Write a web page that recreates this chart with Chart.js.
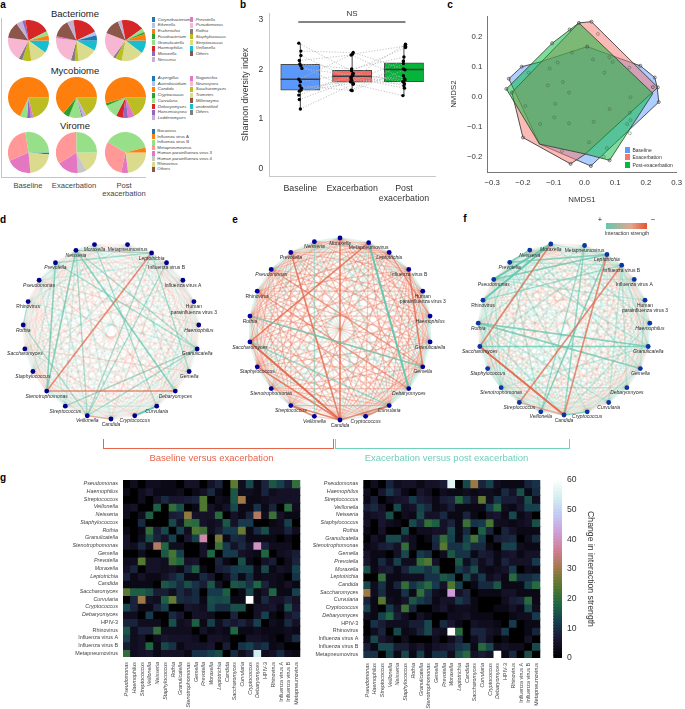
<!doctype html>
<html><head><meta charset="utf-8">
<style>
html,body{margin:0;padding:0;background:#fff;overflow:hidden}
#page{position:relative;width:685px;height:709px;overflow:hidden;font-family:"Liberation Sans",Arial,sans-serif}
canvas{position:absolute}
.t{position:absolute;white-space:pre;line-height:1;color:#333}
.b{position:absolute}
</style>
<script src="https://cdn.jsdelivr.net/npm/chart.js@4/dist/chart.umd.min.js"></script>
</head><body><div id="page"></div>
<script>
// ---------- panel a data ----------
const pieRowNames = ["Bacteriome","Mycobiome","Virome"];
const stageNames = ["Baseline","Exacerbation","Post exacerbation"];
const bacteriaTaxa = ["Corynebacterium","Eikenella","Escherichia","Fusobacterium","Granulicatella","Haemophilus","Moraxella","Neisseria","Prevotella","Pseudomonas","Rothia","Staphylococcus","Streptococcus","Veillonella","Others"];
const bacteriaColors = ["#1f77b4","#aec7e8","#ff7f0e","#2ca02c","#98df8a","#d62728","#9467bd","#c5b0d5","#e377c2","#f7b6d2","#7f7f7f","#bcbd22","#dbdb8d","#17becf","#8c564b"];
const fungiTaxa = ["Aspergillus","Aureobasidium","Candida","Cryptococcus","Curvularia","Debaryomyces","Hanseniaspora","Lodderomyces","Naganishia","Neurospora","Saccharomyces","Trametes","Millerozyma","unidentified","Others"];
const fungiColors = ["#1f77b4","#aec7e8","#ff7f0e","#2ca02c","#98df8a","#d62728","#9467bd","#c5b0d5","#e377c2","#f7b6d2","#bcbd22","#dbdb8d","#8c564b","#17becf","#7f7f7f"];
const virusTaxa = ["Bocavirus","Influenza virus A","Influenza virus B","Metapneumovirus","Human parainfluenza virus 3","Human parainfluenza virus 4","Rhinovirus","Others"];
const virusColors = ["#1f77b4","#ff7f0e","#98df8a","#ff9896","#e377c2","#c7c7c7","#dbdb8d","#8c564b"];
// slices clockwise from three o'clock: [taxon, percent]
const bacBaseline = [["Veillonella",10],["Streptococcus",13],["Staphylococcus",7],["Rothia",3],["Pseudomonas",19.5],["Others",13],["Neisseria",5],["Moraxella",2.5],["Haemophilus",20],["Granulicatella",3.5],["Escherichia",4]];
const bacExacerb = [["Veillonella",8],["Streptococcus",15],["Staphylococcus",3],["Rothia",3],["Pseudomonas",22],["Prevotella",1.5],["Others",14],["Neisseria",5],["Haemophilus",20],["Eikenella",3],["Corynebacterium",4]];
const bacPost = [["Veillonella",10],["Streptococcus",17],["Staphylococcus",5],["Rothia",2],["Pseudomonas",20],["Others",12.5],["Neisseria",3],["Haemophilus",17.5],["Granulicatella",3],["Fusobacterium",1.5],["Escherichia",5]];
const mycBaseline = [["Saccharomyces",21],["Naganishia",2],["Hanseniaspora",3],["Curvularia",5.5],["Candida",68]];
const mycExacerb = [["Saccharomyces",17],["Lodderomyces",3],["Hanseniaspora",1],["Curvularia",10],["Cryptococcus",5],["Candida",64]];
const mycPost = [["Saccharomyces",18],["Naganishia",5],["Hanseniaspora",4],["Debaryomyces",5.5],["Curvularia",11],["Cryptococcus",2],["Candida",54.5]];
const virBaseline = [["Bocavirus",1.5],["Rhinovirus",22],["Human parainfluenza virus 3",20],["Metapneumovirus",29],["Influenza virus B",27.5]];
const virExacerb = [["Rhinovirus",17],["Human parainfluenza virus 4",7],["Human parainfluenza virus 3",17],["Metapneumovirus",34],["Influenza virus B",25]];
const virPost = [["Rhinovirus",23],["Human parainfluenza virus 3",5.5],["Metapneumovirus",30],["Influenza virus B",37.5],["Influenza virus A",4]];

// ---------- panel b data ----------
const boxCategories = ["Baseline","Exacerbation",["Post","exacerbation"]];
const boxColors = ["#5b98fb","#f4685f","#04b53a"];
const boxQ1 = [1.58,1.74,1.75];
const boxQ3 = [2.10,1.98,2.13];
const boxMedian = [1.80,1.86,2.00];
const whiskerLow = [1.20,1.55,1.47];
const whiskerHigh = [2.52,2.33,2.50];
const baselineDiversity = [2.53,2.37,2.28,2.18,2.11,2.07,2.02,1.80,1.75,1.67,1.62,1.58,1.56,1.48,1.39,1.20];
const exacerbDiversity = [1.97,2.34,1.81,2.29,2.01,1.58,1.88,2.31,1.92,1.57,1.75,1.84,1.72,1.90,1.78,1.70];
const postDiversity = [2.44,2.01,2.51,1.81,2.25,2.12,1.67,2.47,1.75,1.99,2.17,1.62,1.87,1.79,1.71,1.47];
const baselineJitter = [-.03,.01,.01,-.02,-.01,.01,.03,-.03,0,-.01,.02,.01,-.02,-.03,-.02,0];
const exacerbJitter = [-.01,.02,-.02,-.02,-.01,-.02,.01,.01,.02,0,-.03,-.02,.02,.01,-.01,.02];
const postJitter = [.03,-.01,.03,.01,0,-.01,0,.03,-.02,.02,-.01,.01,-.01,.02,.01,-.02];
const nsLevel = 2.96;

// ---------- panel c data ----------
const nmdsBaseline = [[-.246,.060],[-.204,.100],[-.147,.115],[.009,.167],[.100,.133],[.182,.103],[.229,.064],[.237,.031],[.242,-.018],[.021,-.231],[-.146,-.158]];
const nmdsExacerb = [[.023,.250],[.239,.031],[.003,-.191],[-.045,-.224],[-.200,-.136],[-.236,.014],[-.018,.246]];
const nmdsPost = [[-.018,.246],[-.105,.178],[-.254,.026],[-.146,-.158],[.003,-.191],[.082,-.212],[.223,.011]];
const nmdsInnerPoints = [[-.040,.147],[-.087,.114],[-.113,.094],[.028,.124],[.081,.131],[.092,.116],[.065,.080],[-.070,.049],[-.119,.038],[-.050,.014],[-.192,-.031],[-.095,-.024],[-.098,-.069],[-.144,-.091],[-.050,-.089],[.030,-.084],[.082,-.041],[.150,-.002],[.148,-.053],[.150,-.078],[.015,-.152],[.073,-.171],[-.073,-.181],[.146,.097],[.044,.209],[-.182,.080],[.139,-.091],[.148,-.122],[.063,-.200]];
const nmdsVertices = [[-.246,.060],[-.204,.100],[.182,.103],[.229,.064],[.239,.031],[.242,-.018],[.021,-.231],[.023,.250],[-.018,.246],[-.048,.224],[-.105,.178],[-.254,.026],[-.236,.014],[-.200,-.136],[-.045,-.224],[.082,-.212],[.009,.167],[.223,.032]];
const nmdsNames = ["Baseline","Exacerbation","Post-exacerbation"];
const nmdsTicksX = [-.3,-.2,-.1,0,.1,.2,.3];
const nmdsTicksY = [-.2,-.1,0,.1,.2];

// ---------- panels d, e, f data ----------
const nodesDF = ["Candida","Cryptococcus","Curvularia","Debaryomyces","Gemella","Granulicatella","Haemophilus","Human parainfluenza virus 3","Influenza virus A","Influenza virus B","Leptotrichia","Metapneumovirus","Moraxella","Neisseria","Prevotella","Pseudomonas","Rhinovirus","Rothia","Saccharomyces","Staphylococcus","Stenotrophomonas","Streptococcus","Veillonella"];
const nodesE = nodesDF.filter(n => n !== "Influenza virus A");
const uprightNames = ["Human parainfluenza virus 3","Influenza virus A","Influenza virus B","Metapneumovirus","Rhinovirus","HPIV-3"];
const nudgeD = {"Leptotrichia":-4,"Metapneumovirus":-3,"Moraxella":3};
const nudgeE = {"Metapneumovirus":-2};
const nudgeF = {"Leptotrichia":-6.5,"Metapneumovirus":-6,"Influenza virus B":-3,"Moraxella":1};
// faint all-pairs network: r/g faint, R/G medium, '.' none
const faintD = ["rrgrGgrgRrrgGrgrrgRgrg","rrgrgRrggrgrrgrrRrgrg","grgrGrrgrgRrgrrgrgGg","rgrrgrgGrgrRrggrrrg","grgrrgrGrrggrRrgrg","rgrgrGgrgrGrgrgRg","grrgrgrgRrgrgrgr","rgGrgrrgrgrrggr","grgrrgrgrRgrgr","rgrgrGrrgrgrg","grRgrgrrGrgr","rgrgGrgrgrg","GrgrgrGrgr","rGgrrgrGr","grgrGrgG","rrgrrGg","grgrgr","rgRgr","grrg","Rgr","gG","r"];
const faintE = ["ggrRgRrRRgRrRrRRgRrRR","ggRRgRRrRrgRRrRgRRr","ggrrRRrRgRrRRrgRRr","ggRgRrRRrRgrRRrRg","ggrRgRRrRrRRgrRr","ggRrRRgRrRRrRgR","gRRrRgRRrRrRgR","ggRgRrRRrRgRrR","gRRrRgRrRRrR","grRRgRRrRgR","gRgRrRRrRgR","gRRgRrRRr","ggrRgRRr","gRRrRgR","grRRgR","ggRrR","gRRg","gRr","gR","g","g"];
const faintF = ["grgrgGrgrgGrrgrgGgrgrg","rgGrgrgrgrrgGrgrgrgrg","gggrgrGrgrrgrgGrgrgr","grgrgGrgrrggrgrgGgr","rgGrgrgrGrgrrggrgr","ggrGrgrgGrgrggGrg","rgrggGrgrgrgrgrg","grgrgrgGrgrggrg","rgggrgGrrgrggr","grgrGggrgrgrg","gGrgrgrGrggr","rgrggGrgrgg","gGgrgGrgrg","GrgggrGrg","grgGrggG","rggrGrg","grgGgr","rgGgr","ggrg","Grg","gG","g"];
// stronger edges: [node, node, level, sign]
const strongD = [["Stenotrophomonas","Leptotrichia",2,"-"],["Stenotrophomonas","Debaryomyces",2,"-"],["Prevotella","Stenotrophomonas",2,"+"],["Neisseria","Stenotrophomonas",2,"+"],["Neisseria","Veillonella",1,"+"],["Prevotella","Granulicatella",1,"+"],["Neisseria","Granulicatella",1,"+"],["Neisseria","Debaryomyces",2,"+"],["Curvularia","Cryptococcus",3,"+"],["Leptotrichia","Veillonella",1,"+"],["Leptotrichia","Gemella",1,"+"],["Prevotella","Leptotrichia",1,"+"],["Neisseria","Leptotrichia",1,"+"],["Rothia","Veillonella",1,"+"],["Streptococcus","Granulicatella",1,"+"],["Veillonella","Granulicatella",1,"+"],["Influenza virus B","Veillonella",1,"+"],["Moraxella","Curvularia",1,"+"],["Veillonella","Candida",1,"-"],["Rhinovirus","Rothia",1,"+"]];
const strongE = [["Metapneumovirus","Debaryomyces",3,"+"],["Rothia","Gemella",2,"+"],["Saccharomyces","Curvularia",1,"+"],["Streptococcus","Curvularia",1,"+"],["Neisseria","Veillonella",1,"+"],["Saccharomyces","Candida",3,"-"],["Saccharomyces","Metapneumovirus",2,"-"],["Staphylococcus","Candida",2,"-"],["Streptococcus","Veillonella",2,"-"],["Candida","Curvularia",2,"-"],["Candida","Moraxella",2,"-"],["Candida","Prevotella",2,"-"],["Influenza virus B","Gemella",2,"-"],["Candida","Streptococcus",2,"-"],["Haemophilus","Leptotrichia",1,"-"],["Cryptococcus","Curvularia",2,"-"],["Rhinovirus","Debaryomyces",1,"-"],["Pseudomonas","Gemella",1,"-"]];
const strongF = [["Saccharomyces","Moraxella",2,"-"],["Saccharomyces","Candida",3,"-"],["Candida","Leptotrichia",2,"-"],["Streptococcus","Influenza virus B",2,"-"],["Streptococcus","Candida",1,"-"],["Moraxella","Pseudomonas",3,"+"],["Moraxella","Rhinovirus",3,"+"],["Neisseria","Prevotella",2,"+"],["Rothia","Gemella",2,"+"],["Saccharomyces","Granulicatella",2,"+"],["Rothia","Granulicatella",2,"+"],["Veillonella","Leptotrichia",2,"+"],["Pseudomonas","Leptotrichia",2,"+"],["Candida","Cryptococcus",2,"+"],["Prevotella","Leptotrichia",2,"+"],["Metapneumovirus","Veillonella",1,"+"],["Rhinovirus","Influenza virus B",1,"+"],["Candida","Metapneumovirus",1,"+"]];

// ---------- panel g data ----------
const heatColumns = ["Pseudomonas","Haemophilus","Streptococcus","Veillonella","Neisseria","Staphylococcus","Rothia","Granulicatella","Stenotrophomonas","Gemella","Prevotella","Moraxella","Leptotrichia","Candida","Saccharomyces","Curvularia","Cryptococcus","Debaryomyces","HPIV-3","Rhinovirus","Influenza virus A","Influenza virus B","Metapneumovirus"];
const heatRows = heatColumns;
const changeBaselineExacerb = [
[0,2,0,2,2,1,1,0,3,3,0,3,6,0,22,2,11,1,6,13,10,5,17],
[1,0,2,4,1,1,1,2,0,1,3,7,1,0,13,2,2,1,6,2,3,3,3],
[0,0,2,0,3,7,4,4,5,6,20,0,2,1,13,30,1,1,2,3,3,3,3],
[2,3,0,0,14,0,17,12,0,1,20,3,1,3,11,1,1,8,1,6,0,16,2],
[2,0,2,14,0,0,5,6,28,3,3,3,16,0,3,1,6,32,2,18,3,1,1],
[0,0,7,0,0,0,11,3,17,16,3,2,3,13,3,9,9,0,0,1,2,10,0],
[1,0,1,17,5,11,0,10,2,20,18,2,5,9,9,23,1,7,12,2,2,6,2],
[3,0,2,12,6,3,10,0,4,10,38,0,25,1,7,6,1,1,1,1,0,1,0],
[3,2,7,2,32,15,2,2,0,0,3,0,18,9,3,7,3,40,6,2,2,2,0],
[0,0,2,0,0,13,19,10,0,0,3,15,0,9,9,3,2,1,15,0,2,3,5],
[2,2,21,3,3,2,18,15,3,4,0,0,6,1,0,12,1,0,3,5,0,2,6],
[3,6,0,3,3,2,3,1,7,14,1,0,5,6,9,10,10,1,11,1,3,2,10],
[6,1,3,1,1,3,6,9,1,1,7,4,0,2,8,1,7,1,2,2,1,0,8],
[1,1,1,1,0,13,11,7,12,8,5,13,3,0,13,12,8,15,6,2,1,3,1],
[22,14,14,12,5,5,2,7,4,7,0,9,9,14,0,1,11,1,3,15,1,1,10],
[0,6,30,3,2,14,23,7,6,7,1,12,11,12,1,1,60,1,7,3,3,6,3],
[11,6,1,1,6,10,0,0,4,3,2,11,7,7,12,12,0,3,3,4,1,12,4],
[2,2,0,9,0,0,7,4,0,3,3,2,0,0,6,0,0,3,10,1,0,4,6],
[6,6,2,2,2,0,12,2,3,14,1,10,2,6,4,6,3,10,0,2,1,7,3],
[13,2,6,6,17,2,2,2,2,0,3,1,2,1,15,1,1,2,1,1,1,2,1],
[10,2,3,0,2,4,3,3,3,2,0,3,3,2,0,0,3,3,2,1,0,2,7],
[5,2,3,15,1,11,8,1,3,3,3,4,0,5,0,8,10,6,8,1,2,0,0],
[17,2,3,4,1,3,3,3,1,8,8,10,12,0,7,2,5,54,2,3,7,2,1]];
const changeExacerbPost = [
[0,2,0,6,2,3,3,1,3,3,5,56,0,11,29,6,10,2,1,1,1,6,8],
[2,0,4,9,5,1,0,4,2,0,2,1,1,2,1,2,2,1,7,3,12,1,7],
[1,5,0,2,3,4,9,5,4,1,5,6,16,8,3,22,2,9,5,5,3,12,2],
[5,7,3,0,11,2,3,10,7,1,2,5,1,1,1,1,9,16,2,1,4,10,10],
[2,3,4,12,0,2,1,11,3,3,7,1,1,6,1,0,3,4,1,11,1,3,0],
[3,0,4,2,1,0,11,6,17,14,3,6,1,18,8,9,19,2,2,1,2,3,12],
[1,0,3,0,0,11,0,2,2,3,3,11,1,7,0,14,6,0,6,3,1,1,1],
[0,3,1,11,11,4,2,0,1,7,17,10,1,10,19,9,0,5,6,7,0,2,7],
[1,2,5,6,3,17,2,0,0,6,21,8,8,12,7,7,1,0,10,10,2,1,1],
[3,1,1,0,3,11,0,9,7,0,2,13,8,8,1,5,4,1,3,4,1,3,3],
[4,1,7,2,10,2,2,17,20,3,0,0,13,2,7,2,5,1,6,3,3,3,9],
[12,1,4,5,1,6,11,11,8,12,0,0,9,6,12,2,1,2,3,9,0,2,1],
[0,0,17,1,1,2,2,2,8,8,13,11,0,11,3,9,2,4,1,16,7,7,9],
[11,2,8,1,6,17,8,12,16,9,3,20,10,0,1,7,7,13,1,1,1,10,16],
[30,2,7,1,1,8,1,17,8,2,1,42,3,6,0,1,1,1,3,3,1,1,1],
[6,1,21,2,1,3,13,9,7,1,3,3,9,6,1,0,0,0,2,5,6,16,1],
[10,1,0,9,3,18,6,0,0,2,4,1,2,2,1,0,0,1,1,3,1,11,2],
[2,1,10,15,5,2,0,3,1,0,0,2,2,3,1,1,1,0,0,1,2,2,9],
[0,8,5,2,2,2,5,5,11,0,7,4,1,0,3,2,2,1,0,9,0,1,1],
[0,2,6,0,11,1,2,6,11,3,2,60,16,0,6,6,3,2,9,0,0,1,6],
[1,11,4,2,0,2,0,0,0,2,0,2,6,0,2,6,2,0,1,0,0,3,0],
[5,1,11,11,5,5,2,4,1,3,4,5,8,10,1,16,11,2,3,2,2,0,11],
[8,8,0,10,1,11,1,10,1,8,8,2,12,16,3,5,3,60,1,7,0,12,0]];
const colorbarTicks = [0,10,20,30,40,50,60];
const cubehelixStops = ["#000000","#1a1530","#163d4e","#1f6642","#54792f","#a07949","#d07e93","#cf9cda","#c1caf3","#d2eeef","#ffffff"];

// ---------- helpers ----------
const page = document.getElementById('page');
const SANS = '"Liberation Sans",Arial,sans-serif';
Chart.defaults.font.family = SANS;
Chart.defaults.animation = false;
Chart.defaults.responsive = false;
Chart.defaults.devicePixelRatio = 1;
Chart.defaults.plugins.legend.display = false;
Chart.defaults.plugins.tooltip.enabled = false;

function text(s,x,y,o={}){
  const e=document.createElement('span'); e.className='t'; e.textContent=s;
  e.style.left=x+'px'; e.style.top=y+'px';
  e.style.fontSize=(o.size||8)+'px';
  if(o.color) e.style.color=o.color;
  if(o.italic) e.style.fontStyle='italic';
  if(o.bold) e.style.fontWeight='bold';
  if(o.font) e.style.fontFamily=o.font;
  e.style.transform = o.left ? 'translate(0,-50%)' : 'translate(-50%,-50%)';
  page.appendChild(e); return e;
}
function rect(x,y,w,h,c){
  const e=document.createElement('div'); e.className='b';
  e.style.cssText+=`left:${x}px;top:${y}px;width:${w}px;height:${h}px;background:${c}`;
  page.appendChild(e); return e;
}
function cv(x,y,w,h){
  const c=document.createElement('canvas'); c.width=w;c.height=h;
  c.style.left=x+'px';c.style.top=y+'px';c.style.width=w+'px';c.style.height=h+'px';
  page.appendChild(c); return c.getContext('2d');
}
function hexRgb(h){return [1,3,5].map(i=>parseInt(h.substr(i,2),16));}
function heatColor(v){
  const t=Math.max(0,Math.min(1,v/60))*(cubehelixStops.length-1);
  const i=Math.min(Math.floor(t),cubehelixStops.length-2), f=t-i;
  const a=hexRgb(cubehelixStops[i]),b=hexRgb(cubehelixStops[i+1]);
  return `rgb(${a.map((c,k)=>Math.round(c+(b[k]-c)*f)).join(',')})`;
}
// tone lift for the dim end of the cells, to match the reference's printed brightness
function cellColor(v){
  if(v<=0) return heatColor(0);
  if(v<=20) return heatColor(v*1.1+1.5);
  if(v<30) return heatColor(23.5+(v-20)*.65);
  return heatColor(v);
}
const isUpright = n => uprightNames.includes(n);

// ---------- panel letters ----------
[["a",3,5],["b",243,5],["c",450,5],["d",3,220],["e",235,220],["f",465,219],["g",3,478]].forEach(p=>text(p[0],p[1],p[2],{size:10,bold:true,color:'#000'}));

// ---------- panel a ----------
function pie(x,y,slices,names,colors){
  const d=41;
  new Chart(cv(x-d/2,y-d/2,d,d),{type:'pie',data:{labels:slices.map(s=>s[0]),datasets:[{
    data:slices.map(s=>s[1]),backgroundColor:slices.map(s=>colors[names.indexOf(s[0])]),borderWidth:0}]},
    options:{rotation:90,layout:{padding:0}}});
}
const pieX=[28,76,125], pieY=[40,97,152];
[bacBaseline,bacExacerb,bacPost].forEach((s,i)=>pie(pieX[i],pieY[0],s,bacteriaTaxa,bacteriaColors));
[mycBaseline,mycExacerb,mycPost].forEach((s,i)=>pie(pieX[i],pieY[1],s,fungiTaxa,fungiColors));
[virBaseline,virExacerb,virPost].forEach((s,i)=>pie(pieX[i],pieY[2],s,virusTaxa,virusColors));
[[75,14],[75,71],[75,126]].forEach((p,i)=>text(pieRowNames[i],p[0],p[1],{size:9.5,color:'#222'}));
rect(0.5,18,1,159,'#c4c4c4'); rect(0.5,177,145,1,'#c4c4c4');
text("Baseline",28,186,{size:7.6,color:'#444'});
text("Exacerbation",74,186,{size:7.6,color:'#444'});
text("Post",124,186,{size:7.6,color:'#444'});
text("exacerbation",124,194,{size:7.6,color:'#444'});
function legendCol(names,colors,xs,xt,y0,dy,italic){
  names.forEach((n,i)=>{
    rect(xs,y0+i*dy-2.5,3.2,5,colors[i]);
    text(n,xt,y0+i*dy,{size:4.3,left:true,italic,color:'#444'});
  });
}
legendCol(bacteriaTaxa.slice(0,8),bacteriaColors.slice(0,8),152,157.7,19.7,5.7,true);
legendCol(bacteriaTaxa.slice(8),bacteriaColors.slice(8),189.5,195.7,19.7,5.7,true);
legendCol(fungiTaxa.slice(0,8),fungiColors.slice(0,8),152,157.7,78,5.7,true);
legendCol(fungiTaxa.slice(8),fungiColors.slice(8),189.5,195.7,78,5.7,true);
legendCol(virusTaxa,virusColors,152,157.3,131.3,5.45,false);

// ---------- panel b ----------
const hw = 19.65/51.7;
const bx = [1,2,3];
const boxDatasets = [];
baselineDiversity.forEach((v,i)=>boxDatasets.push({type:'scatter',showLine:true,order:5,
  data:[{x:1+baselineJitter[i],y:v},{x:2+exacerbJitter[i],y:exacerbDiversity[i]},{x:3+postJitter[i],y:postDiversity[i]}],
  borderColor:'#b4b4b4',borderWidth:.8,borderDash:[1.2,1.6],pointRadius:0}));
boxDatasets.push({type:'bar',order:6,data:bx.map((x,i)=>({x,y:[boxQ1[i],boxQ3[i]]})),backgroundColor:boxColors,borderColor:'#4a4a4a',borderWidth:1,borderSkipped:false,barThickness:39.3,grouped:false});
bx.forEach((x,i)=>{
  boxDatasets.push({type:'scatter',showLine:true,order:3,data:[{x,y:whiskerLow[i]},{x,y:boxQ1[i]}],borderColor:'#555',borderWidth:1.1,pointRadius:0});
  boxDatasets.push({type:'scatter',showLine:true,order:3,data:[{x,y:boxQ3[i]},{x,y:whiskerHigh[i]}],borderColor:'#555',borderWidth:1.1,pointRadius:0});
  boxDatasets.push({type:'scatter',showLine:true,order:2,data:[{x:x-hw,y:boxMedian[i]},{x:x+hw,y:boxMedian[i]}],borderColor:'#3c3c3c',borderWidth:1.5,pointRadius:0});
});
boxDatasets.push({type:'scatter',order:1,pointRadius:1.7,backgroundColor:'#000',borderWidth:0,data:[
  ...baselineDiversity.map((v,i)=>({x:1+baselineJitter[i],y:v})),
  ...exacerbDiversity.map((v,i)=>({x:2+exacerbJitter[i],y:v})),
  ...postDiversity.map((v,i)=>({x:3+postJitter[i],y:v}))]});
boxDatasets.push({type:'scatter',showLine:true,order:1,data:[{x:.96,y:nsLevel},{x:3.03,y:nsLevel}],borderColor:'#5a5a5a',borderWidth:1.5,pointRadius:0});
new Chart(cv(230,0,225,210),{data:{datasets:boxDatasets},options:{
  layout:{padding:{top:13,right:20,left:0,bottom:0}},
  scales:{
    x:{type:'linear',offset:false,min:.4,max:3.6,grid:{display:false,drawTicks:true,tickLength:3,tickColor:'#bbb'},border:{color:'#c8c8c8',width:1},
      afterBuildTicks:a=>{a.ticks=bx.map(v=>({value:v}));},afterFit:a=>{a.height=34;},
      ticks:{color:'#333',font:{size:8.8},padding:4,maxRotation:0,autoSkip:false,callback:v=>boxCategories[v-1]}},
    y:{min:-.156,max:3.14,grid:{display:false,tickLength:3,tickColor:'#bbb'},border:{color:'#c8c8c8',width:1},
      afterBuildTicks:a=>{a.ticks=[0,1,2,3].map(v=>({value:v}));},afterFit:a=>{a.width=39.3;},
      title:{display:true,text:'Shannon diversity index',font:{size:8.8},color:'#333',padding:{top:10,bottom:0}},
      ticks:{color:'#333',font:{size:8.5},padding:3,callback:v=>v}}
  }}});
text("NS",352,14,{size:8,color:'#333'});

// ---------- panel c ----------
const toXY = a => a.map(p=>({x:p[0],y:p[1]}));
const closed = a => [...toXY(a),{x:a[0][0],y:a[0][1]}];
new Chart(cv(450,0,235,205),{type:'scatter',data:{datasets:[
  {order:0,data:toXY(nmdsVertices),pointRadius:1.5,pointStyle:'circle',backgroundColor:'rgba(0,0,0,0)',borderColor:'#444',borderWidth:.7},
  {order:1,data:toXY(nmdsInnerPoints),pointRadius:1.5,backgroundColor:'rgba(0,0,0,0)',borderColor:'rgba(60,90,60,.7)',borderWidth:.6},
  {order:2,showLine:true,fill:'shape',data:closed(nmdsPost),backgroundColor:'rgba(0,186,56,.5)',borderColor:'#2b3b2b',borderWidth:.8,pointRadius:0,tension:0},
  {order:3,showLine:true,fill:'shape',data:closed(nmdsExacerb),backgroundColor:'rgba(248,118,109,.5)',borderColor:'#2b2b2b',borderWidth:.8,pointRadius:0,tension:0},
  {order:4,showLine:true,fill:'shape',data:closed(nmdsBaseline),backgroundColor:'rgba(97,156,255,.5)',borderColor:'#2b2b2b',borderWidth:.8,pointRadius:0,tension:0}
]},options:{
  layout:{padding:{top:16,right:6,left:0,bottom:0}},
  scales:{
    x:{type:'linear',min:-.316,max:.3,grid:{display:false,tickLength:3,tickColor:'#777'},border:{color:'#777'},
      afterBuildTicks:a=>{a.ticks=nmdsTicksX.map(v=>({value:v}));},afterFit:a=>{a.height=32.7;},
      title:{display:true,text:'NMDS1',font:{size:7.8},color:'#333',padding:{top:5,bottom:0}},
      ticks:{color:'#333',font:{size:7.8},padding:3,maxRotation:0,autoSkip:false,callback:v=>(v.toFixed(1)).replace('-','\u2212').replace('\u22120.0','0.0')}},
    y:{type:'linear',min:-.252,max:.269,grid:{display:false,tickLength:3,tickColor:'#777'},border:{color:'#777'},
      afterBuildTicks:a=>{a.ticks=nmdsTicksY.map(v=>({value:v}));},afterFit:a=>{a.width=37.3;},
      title:{display:true,text:'NMDS2',font:{size:7.8},color:'#333',padding:{top:-1,bottom:0}},
      ticks:{color:'#333',font:{size:7.8},padding:2,autoSkip:false,callback:v=>(v.toFixed(1)).replace('-','\u2212').replace('\u22120.0','0.0')}}
  }}});
const ncol=["#5e9cfa","#f7776d","#05ba38"];
nmdsNames.forEach((n,i)=>{
  rect(625,146.5+i*7.7,5,6,ncol[i]);
  text(n,632.5,149.5+i*7.7,{size:5,left:true,color:'#333'});
});

// ---------- panels d, e, f ----------
const GREEN='99,199,174', RED='228,104,74';
function network(cx,cy,R,names,nudge,faint,strong,nodeColor,style){
  const half=122, lim=half/R;
  const pos={};
  names.forEach((n,i)=>{
    const a=(270+i*360/names.length+(nudge[n]||0))*Math.PI/180;
    pos[n]={x:Math.cos(a),y:Math.sin(a)};
  });
  const ds=[{order:0,data:names.map(n=>pos[n]),pointRadius:2.4,backgroundColor:nodeColor,borderWidth:0}];
  faint.forEach((row,i)=>{
    [...row].forEach((c,j)=>{
      const b=names[i+1+j]; if(!b||!style[c]) return;
      const s=style[c];
      ds.push({order:3,showLine:true,pointRadius:0,borderWidth:s[2],borderColor:`rgba(${s[0]},${s[1]})`,data:[pos[names[i]],pos[b]]});
    });
  });
  const lv={1:[1.3,.5],2:[1.6,.72],3:[2,.95]};
  strong.forEach(e=>{
    ds.push({order:1,showLine:true,pointRadius:0,borderWidth:lv[e[2]][0],
      borderColor:`rgba(${e[3]==='+'?GREEN:RED},${lv[e[2]][1]})`,data:[pos[e[0]],pos[e[1]]]});
  });
  const labels={id:'nodeLabels',afterDatasetsDraw(ch){
    const c=ch.ctx; c.save(); c.textAlign='center'; c.textBaseline='middle'; c.fillStyle='#2a2a2a';
    names.forEach(n=>{
      const px=ch.scales.x.getPixelForValue(pos[n].x), py=ch.scales.y.getPixelForValue(pos[n].y);
      c.font=(isUpright(n)?'':'italic ')+'5px '+SANS;
      if(n.startsWith('Human')){c.fillText('Human',px,py+5.2);c.fillText('parainfluenza virus 3',px,py+10.8);}
      else c.fillText(n,px,py+5.2);
    });
    c.restore();
  }};
  new Chart(cv(cx-half,cy-half,half*2,half*2),{type:'scatter',data:{datasets:ds},plugins:[labels],options:{
    layout:{padding:0,autoPadding:false},
    scales:{x:{display:false,min:-lim,max:lim},y:{display:false,min:-lim,max:lim}}}});
}
network(110.7,330.7,88,nodesDF,nudgeD,faintD,strongD,'#00008f',{r:[RED,.09,1.6],g:[GREEN,.11,1.6],R:[RED,.2,1.3],G:[GREEN,.24,1.6]});
network(340,329,91,nodesE,nudgeE,faintE,strongE,'#0000a0',{r:[RED,.18,1.5],g:[GREEN,.22,1.8],R:[RED,.34,1.2],G:[GREEN,.4,1.6]});
network(564.3,328.7,86,nodesDF,nudgeF,faintF,strongF,'#0a35a5',{r:[RED,.12,1.6],g:[GREEN,.15,1.6],R:[RED,.25,1.3],G:[GREEN,.34,1.6]});

// interaction strength key
const keyBar=rect(606,222.7,40.7,6,'linear-gradient(90deg,#63c7ae,#e0a890 60%,#e2562f)');
text("+",600,220,{size:7.5,color:'#222'});
text("\u2212",653,220,{size:7.5,color:'#222'});
text("Interaction strength",627,233.7,{size:5.2,color:'#333'});

// brackets
const redB='#e8654a', greenB='#6fd3bc';
rect(103,439,1,10,redB); rect(103,448,231,1,redB); rect(333,439,1,10,redB);
rect(335,439,1,10,greenB); rect(335,448,234,1,greenB); rect(569,439,1,10,greenB);
text("Baseline versus exacerbation",211.5,457.5,{size:9.5,color:redB});
text("Exacerbation versus post exacerbation",446.5,457.5,{size:9.5,color:'#6fd0ba'});

// ---------- panel g ----------
function heatmap(x,y,w,h,left,right,top,bottom,matrix){
  const ds=matrix.map((row,r)=>({grouped:false,categoryPercentage:1,barPercentage:1,borderWidth:0,inflateAmount:.6,
    data:row.map(()=>[r,r+1]),backgroundColor:row.map(cellColor)}));
  const tickFont=n=>({size:5.4,style:isUpright(n)?'normal':'italic'});
  new Chart(cv(x,y,w,h),{type:'bar',data:{labels:heatColumns,datasets:ds},options:{
    layout:{padding:{top:top-y,right:x+w-right,left:0,bottom:0}},
    scales:{
      x:{type:'category',grid:{display:false,tickLength:3,tickColor:'#777'},border:{display:false},
        afterFit:a=>{a.height=y+h-bottom;},
        ticks:{autoSkip:false,minRotation:90,maxRotation:90,padding:2,color:'#444',
          font:c=>tickFont(heatColumns[c.index])}},
      y:{type:'linear',reverse:true,min:0,max:heatRows.length,grid:{display:false,tickLength:3,tickColor:'#777'},border:{display:false},
        afterBuildTicks:a=>{a.ticks=heatRows.map((_,i)=>({value:i+.5}));},
        afterFit:a=>{a.width=left-x;},
        ticks:{autoSkip:false,padding:2,color:'#444',callback:v=>heatRows[Math.floor(v)],
          font:c=>tickFont(heatRows[c.index])}}
    }}});
}
heatmap(40,470,265,239,123,301,480,657,changeBaselineExacerb);
heatmap(280,470,265,239,363.3,542,480,658,changeExacerbPost);

// colour bar
const barLevels=Array.from({length:60},(_,i)=>i);
new Chart(cv(545,470,70,198),{type:'bar',data:{labels:[''],datasets:barLevels.map(v=>({
    grouped:false,categoryPercentage:1,barPercentage:1,borderWidth:0,inflateAmount:.6,data:[[v,v+1]],backgroundColor:heatColor(v+.5)}))},options:{
  layout:{padding:{top:10,left:8.3,right:0,bottom:10}},
  scales:{
    x:{display:false},
    y:{position:'right',min:0,max:60,grid:{display:false,tickLength:3,tickColor:'#999'},border:{display:false},
      afterBuildTicks:a=>{a.ticks=colorbarTicks.map(v=>({value:v}));},
      afterFit:a=>{a.width=53;},
      title:{display:true,text:'Change in interaction strength',font:{size:8.7},color:'#333',padding:{top:19,bottom:0}},
      ticks:{color:'#333',font:{size:8.6},padding:2}}
  }}});
</script></body></html>
